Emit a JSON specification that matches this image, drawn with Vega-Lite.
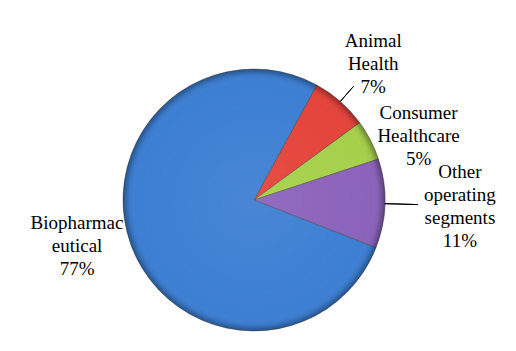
{
  "$schema": "https://vega.github.io/schema/vega-lite/v6.json",
  "width": 508,
  "height": 302,
  "autosize": {"type": "none"},
  "padding": {"left": 0, "top": 49, "right": 8, "bottom": 0},
  "background": "white",
  "data": {
    "values": [
      {"segment": "Animal Health", "value": 7, "label": ["Animal", "Health", "7%"]},
      {"segment": "Consumer Healthcare", "value": 5, "label": ["Consumer", "Healthcare", "5%"]},
      {"segment": "Other operating segments", "value": 11, "label": ["Other", "operating", "segments", "11%"]},
      {"segment": "Biopharmaceutical", "value": 77, "label": ["Biopharmac", "eutical", "77%"]}
    ]
  },
  "transform": [
    {"stack": "value", "groupby": [], "as": ["v0", "v1"]},
    {"calculate": "(datum.v0 + datum.v1) / 2", "as": "mid"}
  ],
  "layer": [
    {
      "mark": {"type": "arc", "radius": 131, "stroke": "#3a3a3a", "strokeWidth": 0.8, "strokeOpacity": 0.55},
      "encoding": {
        "theta": {"field": "v0", "type": "quantitative", "stack": null, "scale": {"domain": [0, 100], "range": [0.4992, 6.7824]}},
        "theta2": {"field": "v1"},
        "color": {
          "field": "segment", "type": "nominal", "legend": null,
          "scale": {
            "domain": ["Animal Health", "Consumer Healthcare", "Other operating segments", "Biopharmaceutical"],
            "range": ["#e4443b", "#a6d04a", "#8b63bb", "#3d7fd3"]
          }
        }
      }
    },
    {
      "transform": [{"aggregate": [{"op": "sum", "field": "value", "as": "total"}]}],
      "mark": {
        "type": "arc", "radius": 131,
        "fill": {
          "gradient": "radial", "x1": 0.5, "y1": 0.5, "r1": 0, "x2": 0.5, "y2": 0.5, "r2": 0.5,
          "stops": [
            {"offset": 0, "color": "rgba(255,255,255,0.06)"},
            {"offset": 0.9, "color": "rgba(255,255,255,0)"},
            {"offset": 0.955, "color": "rgba(0,0,0,0.06)"},
            {"offset": 1, "color": "rgba(0,0,0,0.35)"}
          ]
        }
      },
      "encoding": {
        "theta": {"field": "total", "type": "quantitative"}
      }
    },
    {
      "transform": [{"filter": "datum.segment === 'Animal Health'"}],
      "mark": {"type": "arc", "radius": 151, "radius2": 131, "stroke": "black", "strokeWidth": 1, "fillOpacity": 0},
      "encoding": {
        "theta": {"field": "mid", "type": "quantitative", "stack": null},
        "theta2": {"field": "mid"}
      }
    },
    {
      "transform": [{"filter": "datum.segment === 'Other operating segments'"}],
      "mark": {"type": "arc", "radius": 164, "radius2": 131, "stroke": "black", "strokeWidth": 1, "fillOpacity": 0},
      "encoding": {
        "theta": {"field": "mid", "type": "quantitative", "stack": null},
        "theta2": {"field": "mid"}
      }
    },
    {
      "transform": [{"filter": "datum.segment === 'Animal Health'"}],
      "mark": {"type": "text", "radius": 181, "dy": -23, "font": "Liberation Serif, DejaVu Serif, serif", "fontSize": 19, "lineHeight": 23, "align": "center", "baseline": "middle", "color": "black"},
      "encoding": {
        "theta": {"field": "mid", "type": "quantitative", "stack": null},
        "text": {"field": "label"}
      }
    },
    {
      "transform": [{"filter": "datum.segment === 'Consumer Healthcare'"}],
      "mark": {"type": "text", "radius": 176, "dx": 8, "dy": -7, "font": "Liberation Serif, DejaVu Serif, serif", "fontSize": 19, "lineHeight": 23, "align": "center", "baseline": "middle", "color": "black"},
      "encoding": {
        "theta": {"field": "mid", "type": "quantitative", "stack": null},
        "text": {"field": "label"}
      }
    },
    {
      "transform": [{"filter": "datum.segment === 'Other operating segments'"}],
      "mark": {"type": "text", "radius": 206, "dy": -34, "font": "Liberation Serif, DejaVu Serif, serif", "fontSize": 19, "lineHeight": 23, "align": "center", "baseline": "middle", "color": "black"},
      "encoding": {
        "theta": {"field": "mid", "type": "quantitative", "stack": null},
        "text": {"field": "label"}
      }
    },
    {
      "transform": [{"filter": "datum.segment === 'Biopharmaceutical'"}],
      "mark": {"type": "text", "radius": 183, "dx": -5, "dy": -40, "font": "Liberation Serif, DejaVu Serif, serif", "fontSize": 19, "lineHeight": 23, "align": "center", "baseline": "middle", "color": "black"},
      "encoding": {
        "theta": {"field": "mid", "type": "quantitative", "stack": null},
        "text": {"field": "label"}
      }
    }
  ],
  "config": {"view": {"stroke": null}}
}
